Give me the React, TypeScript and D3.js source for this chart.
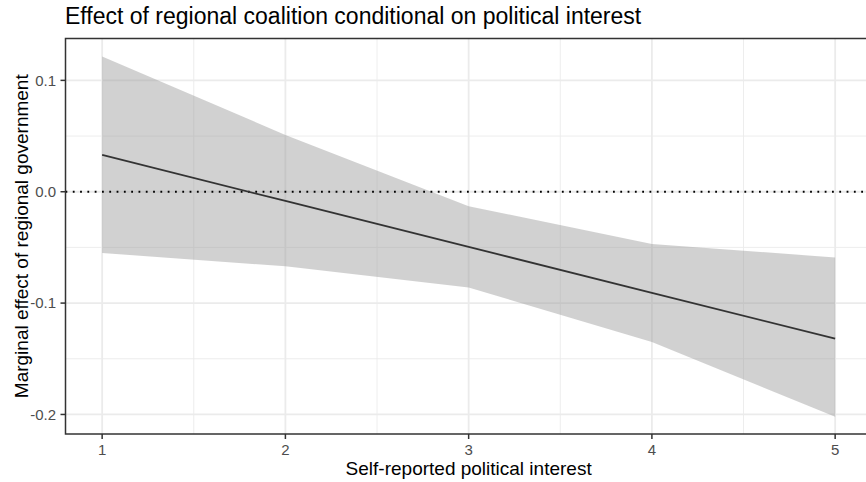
import React from "react";
import * as d3 from "d3";

const xVals = [1, 2, 3, 4, 5];
const estimate = [0.033, -0.0083, -0.0495, -0.0908, -0.132];
const upper = [0.1215, 0.051, -0.013, -0.047, -0.059];
const lower = [-0.055, -0.067, -0.086, -0.135, -0.202];
const xTicks = [1, 2, 3, 4, 5];
const xMinor = [1.5, 2.5, 3.5, 4.5];
const yTicks = [0.1, 0.0, -0.1, -0.2];
const yMinor = [0.05, -0.05, -0.15];
const yTickLabels = ["0.1", "0.0", "-0.1", "-0.2"];
const title = "Effect of regional coalition conditional on political interest";
const xTitle = "Self-reported political interest";
const yTitle = "Marginal effect of regional government";

export default function App() {
  const W = 866, H = 482;
  const left = 65.5, top = 38.5, bottom = 434;
  const x = d3.scaleLinear().domain([0.8, 5.2]).range([65.5, 871.8]);
  const y = d3.scaleLinear().domain([-0.21755, 0.1376]).range([bottom, top]);
  const rows = xVals.map((v, i) => ({ x: v, e: estimate[i], u: upper[i], l: lower[i] }));
  const area = d3.area<any>().x(d => x(d.x)).y0(d => y(d.l)).y1(d => y(d.u));
  const line = d3.line<any>().x(d => x(d.x)).y(d => y(d.e));
  const font = "'Liberation Sans', Arial, Helvetica, sans-serif";
  const right = W + 10;
  return (
    <svg width={W} height={H} style={{ position: "absolute", left: 0, top: 0, display: "block" }} fontFamily={font}>
      <rect x={0} y={0} width={W} height={H} fill="#fff" />
      {xMinor.map(v => (
        <line key={"xm" + v} x1={x(v)} x2={x(v)} y1={top} y2={bottom} stroke="#ebebeb" strokeWidth={0.9} />
      ))}
      {yMinor.map(v => (
        <line key={"ym" + v} x1={left} x2={right} y1={y(v)} y2={y(v)} stroke="#ebebeb" strokeWidth={0.9} />
      ))}
      {xTicks.map(v => (
        <line key={"xg" + v} x1={x(v)} x2={x(v)} y1={top} y2={bottom} stroke="#ebebeb" strokeWidth={1.8} />
      ))}
      {yTicks.map(v => (
        <line key={"yg" + v} x1={left} x2={right} y1={y(v)} y2={y(v)} stroke="#ebebeb" strokeWidth={1.8} />
      ))}
      <path d={area(rows) || ""} fill="#999999" fillOpacity={0.45} />
      <line x1={left} x2={right} y1={y(0)} y2={y(0)} stroke="#000" strokeWidth={1.8} strokeDasharray="1.8 5.5" />
      <path d={line(rows) || ""} fill="none" stroke="#333333" strokeWidth={1.8} />
      <rect x={left} y={top} width={right - left + 20} height={bottom - top} fill="none" stroke="#333333" strokeWidth={1.5} />
      {xTicks.map(v => (
        <g key={"xt" + v}>
          <line x1={x(v)} x2={x(v)} y1={bottom} y2={bottom + 5} stroke="#333333" strokeWidth={1.5} />
          <text x={x(v)} y={455} textAnchor="middle" fontSize={15} fill="#4d4d4d">{v}</text>
        </g>
      ))}
      {yTicks.map((v, i) => (
        <g key={"yt" + v}>
          <line x1={left - 5} x2={left} y1={y(v)} y2={y(v)} stroke="#333333" strokeWidth={1.5} />
          <text x={56} y={y(v) + 5.4} textAnchor="end" fontSize={15} fill="#4d4d4d">{yTickLabels[i]}</text>
        </g>
      ))}
      <text x={x(3)} y={475} textAnchor="middle" fontSize={19} fill="#000">{xTitle}</text>
      <text transform={`translate(28,${(top + bottom) / 2}) rotate(-90)`} textAnchor="middle" fontSize={19} fill="#000">{yTitle}</text>
      <text x={65} y={24} fontSize={23} fill="#000">{title}</text>
    </svg>
  );
}
